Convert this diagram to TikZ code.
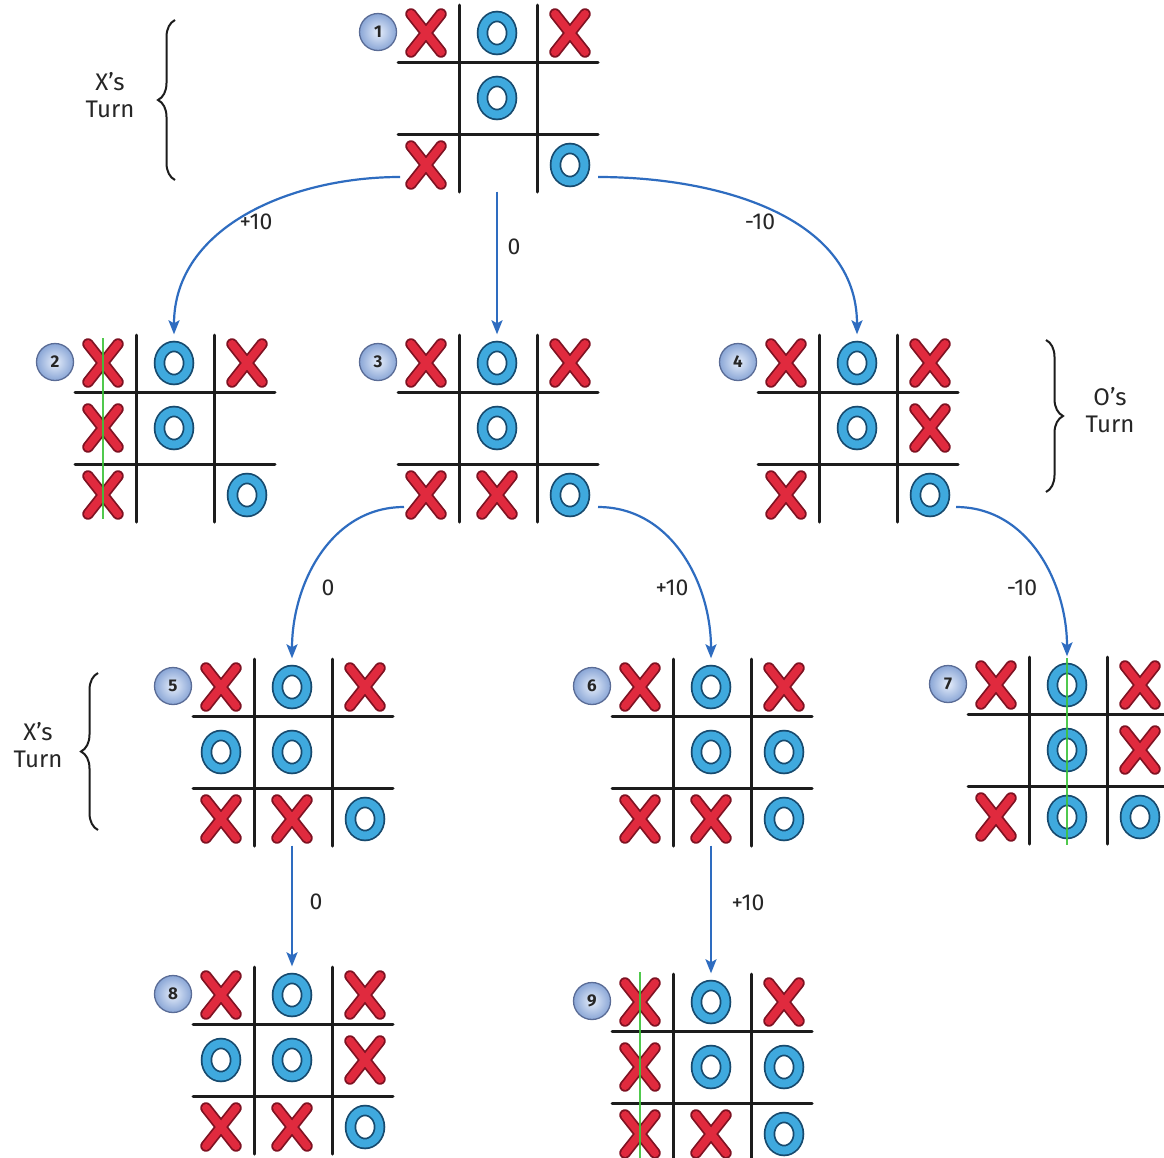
\documentclass[tikz,border=0pt]{standalone}
\usepackage{fontspec}
\setmainfont{Fira Sans}
\usetikzlibrary{calc,arrows.meta,decorations.pathreplacing,shadings}
\definecolor{xred}{HTML}{E02A3E}
\definecolor{xdark}{HTML}{7E1222}
\definecolor{oblue}{HTML}{3FA9DE}
\definecolor{odark}{HTML}{174A6E}
\definecolor{arrowblue}{HTML}{2E6CC0}
\definecolor{wingreen}{HTML}{3DC43A}
\definecolor{badgein}{HTML}{E6EEFB}
\definecolor{badgeout}{HTML}{8AA6D6}
\definecolor{badgeedge}{HTML}{5A6C96}
\definecolor{gridc}{HTML}{1C1C1C}
\tikzset{
  boardbox/.style={minimum width=200pt, minimum height=187pt, inner sep=0pt},
  cellbox/.style={minimum width=72pt, minimum height=66pt, inner sep=0pt},
  gridline/.style={draw=gridc, line width=3pt, line cap=round},
  xout/.style={draw=xdark, line width=11.5pt, line cap=round},
  xin/.style={draw=xred, line width=8pt, line cap=round},
  oout/.style={draw=odark, line width=11.5pt},
  oin/.style={draw=oblue, line width=8pt},
  badge/.style={circle, minimum size=37pt, inner sep=0pt, draw=badgeedge, line width=1.3pt, inner color=badgein, outer color=badgeout, font=\fontsize{17}{17}\selectfont\bfseries, text=black!85},
  conn/.style={draw=arrowblue, line width=2.2pt, -{Stealth[length=14pt,width=11pt,inset=3pt]}},
  lbl/.style={font=\fontsize{23}{23}\selectfont, text=black!85, inner sep=0pt},
  turntext/.style={font=\fontsize{24}{27}\selectfont, align=center, text=black!85, inner sep=0pt},
  bracestyle/.style={draw=gridc, line width=2pt, decorate, decoration={brace, amplitude=17pt, aspect=0.5}},
  win/.style={draw=wingreen, line width=2.8pt, opacity=0.9},
  pics/markX/.style={code={
    \draw[xout] (-15,-19) -- (15,19) (15,-19) -- (-15,19);
    \draw[xin] (-15,-19) -- (15,19) (15,-19) -- (-15,19);}},
  pics/markO/.style={code={
    \draw[oout] (0,0) ellipse [x radius=14.5pt, y radius=16.5pt];
    \draw[oin] (0,0) ellipse [x radius=14.5pt, y radius=16.5pt];}},
  pics/markN/.style={code={}},
}
\newcommand\tttboard[4]{%
  \node[boardbox] (#1) at (#2) {};
  \draw[gridline] ($(#1.center)+(-99,-36)$) -- ($(#1.center)+(101,-36)$);
  \draw[gridline] ($(#1.center)+(-99,36)$) -- ($(#1.center)+(101,36)$);
  \draw[gridline] ($(#1.center)+(-38,-93)$) -- ($(#1.center)+(-38,94)$);
  \draw[gridline] ($(#1.center)+(40,-93)$) -- ($(#1.center)+(40,94)$);
  \foreach \m [count=\i] in {#4} {
    \pgfmathtruncatemacro\cc{mod(\i-1,3)}
    \pgfmathtruncatemacro\rr{div(\i-1,3)}
    \pgfmathsetmacro\dx{{-71,0,73}[\cc]}
    \pgfmathsetmacro\dy{{-65,0,67}[\rr]}
    \node[cellbox] (#1-\i) at ($(#1.center)+(\dx,\dy)$) {};
    \pic at (#1-\i.center) {mark\m};
  }
  \node[badge] (#1-n) at ($(#1.center)+(-119,-66)$) {#3};
}
\begin{document}
\begin{tikzpicture}[x=1pt,y=-1pt]
\useasboundingbox (0,0) rectangle (1164,1157);
\fill[white] (0,0) rectangle (1164,1157);

\tttboard{b1}{497,98}{1}{X,O,X,N,O,N,X,N,O}
\tttboard{b2}{174,428}{2}{X,O,X,X,O,N,X,N,O}
\tttboard{b3}{497,428}{3}{X,O,X,N,O,N,X,X,O}
\tttboard{b4}{857,428}{4}{X,O,X,N,O,X,X,N,O}
\tttboard{b5}{292,752}{5}{X,O,X,O,O,N,X,X,O}
\tttboard{b6}{711,752}{6}{X,O,X,N,O,O,X,X,O}
\tttboard{b7}{1067,750}{7}{X,O,X,N,O,X,X,O,O}
\tttboard{b8}{292,1060}{8}{X,O,X,O,O,X,X,X,O}
\tttboard{b9}{711,1067}{9}{X,O,X,X,O,O,X,X,O}

% winning lines
\draw[win] ($(b2-1.center)+(0,-25)$) -- ($(b2-7.center)+(0,24)$);
\draw[win] ($(b7-2.center)+(0,-27)$) -- ($(b7-8.center)+(0,28)$);
\draw[win] ($(b9-1.center)+(0,-30)$) -- ($(b9-7.center)+(0,24)$);

% connectors
\draw[conn] ($(b1-7.center)+(-26,12)$) to[out=180,in=90] (b2.north);
\draw[conn] (b1.south) -- (b3.north);
\draw[conn] ($(b1-9.center)+(28,12)$) to[out=0,in=90] (b4.north);
\draw[conn] ($(b3-7.center)+(-22,12)$) to[out=180,in=90] (b5.north);
\draw[conn] ($(b3-9.center)+(28,12)$) to[out=0,in=90] (b6.north);
\draw[conn] ($(b4-9.center)+(26,12)$) to[out=0,in=90] (b7.north);
\draw[conn] (b5.south) -- (b8.north);
\draw[conn] (b6.south) -- (b9.north);

% labels
\node[lbl] (l1) at (256,222) {+10};
\node[lbl] (l2) at (514,247) {0};
\node[lbl] (l3) at (760,222) {-10};
\node[lbl] (l4) at (328,588) {0};
\node[lbl] (l5) at (672,588) {+10};
\node[lbl] (l6) at (1022,588) {-10};
\node[lbl] (l7) at (316,902) {0};
\node[lbl] (l8) at (748,903) {+10};

% turn annotations
\node[turntext] (t1) at (110,95) {X's\\Turn};
\draw[bracestyle] (175,180) -- (175,20);
\node[turntext] (t2) at (1110,410) {O's\\Turn};
\draw[bracestyle] (1046,340) -- (1046,492);
\node[turntext] (t3) at (38,745) {X's\\Turn};
\draw[bracestyle] (98,830) -- (98,673);
\end{tikzpicture}
\end{document}
